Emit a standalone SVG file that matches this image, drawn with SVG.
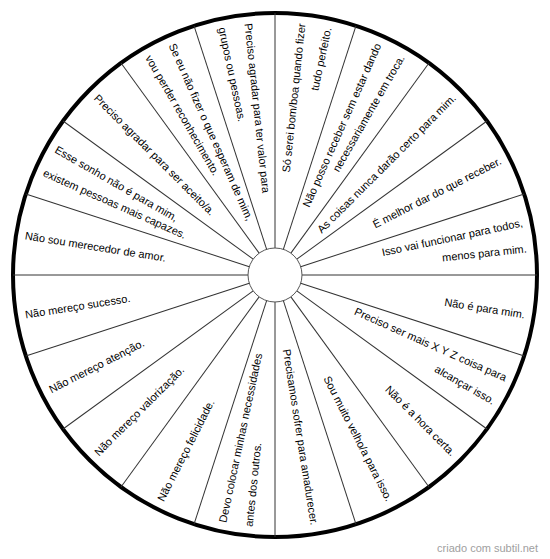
<svg xmlns="http://www.w3.org/2000/svg" width="550" height="559" viewBox="0 0 550 559">
<style>
text{font-family:"Liberation Sans",Arial,sans-serif;font-size:11px;fill:#000}
.r{text-anchor:end}
.l{text-anchor:start}
.spoke{stroke:#333;stroke-width:1}
.wm{fill:#a0a0a0;text-anchor:end}
</style>
<rect width="550" height="559" fill="#fff"/>
<circle id="wheel" cx="275" cy="275" r="262" fill="#fff" stroke="#000" stroke-width="4"/>
<g id="connectors">
<line class="spoke" x1="275" y1="248" x2="275" y2="13" transform="rotate(0 275 275)"/>
<line class="spoke" x1="275" y1="248" x2="275" y2="13" transform="rotate(18 275 275)"/>
<line class="spoke" x1="275" y1="248" x2="275" y2="13" transform="rotate(36 275 275)"/>
<line class="spoke" x1="275" y1="248" x2="275" y2="13" transform="rotate(54 275 275)"/>
<line class="spoke" x1="275" y1="248" x2="275" y2="13" transform="rotate(72 275 275)"/>
<line class="spoke" x1="275" y1="248" x2="275" y2="13" transform="rotate(90 275 275)"/>
<line class="spoke" x1="275" y1="248" x2="275" y2="13" transform="rotate(108 275 275)"/>
<line class="spoke" x1="275" y1="248" x2="275" y2="13" transform="rotate(126 275 275)"/>
<line class="spoke" x1="275" y1="248" x2="275" y2="13" transform="rotate(144 275 275)"/>
<line class="spoke" x1="275" y1="248" x2="275" y2="13" transform="rotate(162 275 275)"/>
<line class="spoke" x1="275" y1="248" x2="275" y2="13" transform="rotate(180 275 275)"/>
<line class="spoke" x1="275" y1="248" x2="275" y2="13" transform="rotate(198 275 275)"/>
<line class="spoke" x1="275" y1="248" x2="275" y2="13" transform="rotate(216 275 275)"/>
<line class="spoke" x1="275" y1="248" x2="275" y2="13" transform="rotate(234 275 275)"/>
<line class="spoke" x1="275" y1="248" x2="275" y2="13" transform="rotate(252 275 275)"/>
<line class="spoke" x1="275" y1="248" x2="275" y2="13" transform="rotate(270 275 275)"/>
<line class="spoke" x1="275" y1="248" x2="275" y2="13" transform="rotate(288 275 275)"/>
<line class="spoke" x1="275" y1="248" x2="275" y2="13" transform="rotate(306 275 275)"/>
<line class="spoke" x1="275" y1="248" x2="275" y2="13" transform="rotate(324 275 275)"/>
<line class="spoke" x1="275" y1="248" x2="275" y2="13" transform="rotate(342 275 275)"/>
</g>
<circle id="hub" cx="275" cy="275" r="27" fill="#fff" stroke="#555" stroke-width="1"/>
<g id="s0"><text class="r" x="528" y="279" transform="rotate(-84 275 275)">Só serei bom/boa quando fizer</text><text class="r" x="528" y="279" transform="rotate(-78 275 275)">tudo perfeito.</text></g>
<g id="s1"><text class="r" x="528" y="279" transform="rotate(-66 275 275)">Não posso receber sem estar dando</text><text class="r" x="528" y="279" transform="rotate(-60 275 275)">necessariamente em troca.</text></g>
<g id="s2"><text class="r" x="528" y="279" transform="rotate(-45 275 275)">As coisas nunca darão certo para mim.</text></g>
<g id="s3"><text class="r" x="528" y="279" transform="rotate(-27 275 275)">É melhor dar do que receber.</text></g>
<g id="s4"><text class="r" x="528" y="279" transform="rotate(-12 275 275)">Isso vai funcionar para todos,</text><text class="r" x="528" y="279" transform="rotate(-6 275 275)">menos para mim.</text></g>
<g id="s5"><text class="r" x="528" y="279" transform="rotate(9 275 275)">Não é para mim.</text></g>
<g id="s6"><text class="r" x="528" y="279" transform="rotate(24 275 275)">Preciso ser mais X Y Z coisa para</text><text class="r" x="528" y="279" transform="rotate(30 275 275)">alcançar isso.</text></g>
<g id="s7"><text class="r" x="528" y="279" transform="rotate(45 275 275)">Não é a hora certa.</text></g>
<g id="s8"><text class="r" x="528" y="279" transform="rotate(63 275 275)">Sou muito velho/a para isso.</text></g>
<g id="s9"><text class="r" x="528" y="279" transform="rotate(81 275 275)">Precisamos sofrer para amadurecer.</text></g>
<g id="s10"><text class="l" x="22" y="279" transform="rotate(-78 275 275)">Devo colocar minhas necessidades</text><text class="l" x="22" y="279" transform="rotate(-84 275 275)">antes dos outros.</text></g>
<g id="s11"><text class="l" x="22" y="279" transform="rotate(-63 275 275)">Não mereço felicidade.</text></g>
<g id="s12"><text class="l" x="22" y="279" transform="rotate(-45 275 275)">Não mereço valorização.</text></g>
<g id="s13"><text class="l" x="22" y="279" transform="rotate(-27 275 275)">Não mereço atenção.</text></g>
<g id="s14"><text class="l" x="22" y="279" transform="rotate(-9 275 275)">Não mereço sucesso.</text></g>
<g id="s15"><text class="l" x="22" y="279" transform="rotate(9 275 275)">Não sou merecedor de amor.</text></g>
<g id="s16"><text class="l" x="22" y="279" transform="rotate(30 275 275)">Esse sonho não é para mim,</text><text class="l" x="22" y="279" transform="rotate(24 275 275)">existem pessoas mais capazes.</text></g>
<g id="s17"><text class="l" x="22" y="279" transform="rotate(45 275 275)">Preciso agradar para ser aceito/a.</text></g>
<g id="s18"><text class="l" x="22" y="279" transform="rotate(66 275 275)">Se eu não fizer o que esperam de mim,</text><text class="l" x="22" y="279" transform="rotate(60 275 275)">vou perder reconhecimento.</text></g>
<g id="s19"><text class="l" x="22" y="279" transform="rotate(84 275 275)">Preciso agradar para ter valor para</text><text class="l" x="22" y="279" transform="rotate(78 275 275)">grupos ou pessoas.</text></g>
<text class="wm" x="538" y="552">criado com subtil.net</text>
</svg>
